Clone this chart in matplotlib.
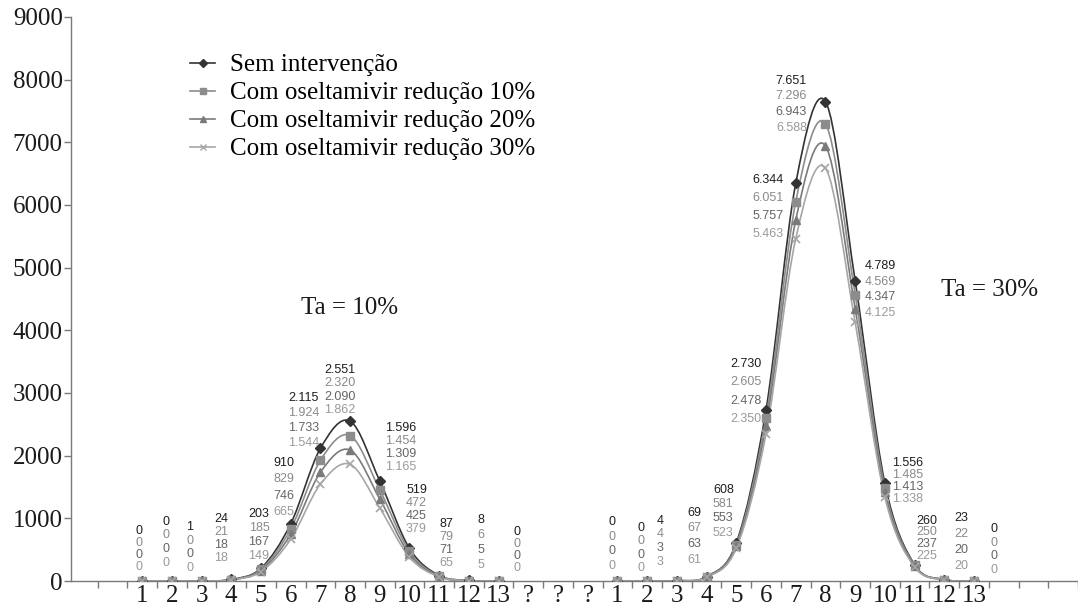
import numpy as np
import matplotlib
matplotlib.use('Agg')
import matplotlib.pyplot as plt
from matplotlib.path import Path
from matplotlib.patches import PathPatch
from matplotlib.lines import Line2D

# ---------------- data ----------------
week_labels = [str(i) for i in range(1, 14)] + ['?', '?', '?'] + [str(i) for i in range(1, 14)]

series_names = ['Sem intervenção',
                'Com oseltamivir redução 10%',
                'Com oseltamivir redução 20%',
                'Com oseltamivir redução 30%']

# Ta = 10%
ta10_sem = [0, 0, 1, 24, 203, 910, 2115, 2551, 1596, 519, 87, 8, 0]
ta10_r10 = [0, 0, 0, 21, 185, 829, 1924, 2320, 1454, 472, 79, 6, 0]
ta10_r20 = [0, 0, 0, 18, 167, 746, 1733, 2090, 1309, 425, 71, 5, 0]
ta10_r30 = [0, 0, 0, 18, 149, 665, 1544, 1862, 1165, 379, 65, 5, 0]

# Ta = 30%
ta30_sem = [0, 0, 4, 69, 608, 2730, 6344, 7651, 4789, 1556, 260, 23, 0]
ta30_r10 = [0, 0, 4, 67, 581, 2605, 6051, 7296, 4569, 1485, 250, 22, 0]
ta30_r20 = [0, 0, 3, 63, 553, 2478, 5757, 6943, 4347, 1413, 237, 20, 0]
ta30_r30 = [0, 0, 3, 61, 523, 2350, 5463, 6588, 4125, 1338, 225, 20, 0]

group_labels = ['Ta = 10%', 'Ta = 30%']

# ---------------- layout / style (not data) ----------------
W, H = 1078, 611
x_left_group = np.arange(0, 13)
x_right_group = np.arange(16, 29)

line_colors = ['#333333', '#8c8c8c', '#7a7a7a', '#a6a6a6']
label_colors = ['#1e1e1e', '#8a8a8a', '#656565', '#9a9a9a']
markers = ['D', 's', '^', 'x']
msizes = [5, 6, 6, 6]

# label placement per category: dx, dy of top label (pixels, image-down), vertical step
lab_dx_left = [-3, -6, -12, -10, -2, -7, -17, -10, 21, 7, 7, 12, 18]
lab_dy_left = [-50, -59, -54, -60, -54, -61, -50, -51, -53, -58, -52, -60, -49]
lab_st_left = [12, 13.5, 13.7, 13, 14, 16.3, 14.7, 13.3, 13, 13, 13.3, 14.7, 12]
lab_dx_right = [-5, -6, -17, -12, -13, -20, -28, -34, 25, 23, 12, 17, 20]
lab_dy_right = [-59, -53, -60, -64, -53, -46, -3, -21, -15, -20, -44, -62, -52]
lab_st_right = [14.7, 13.3, 13.7, 15.7, 14.3, 18.3, 17.7, 15.7, 15.7, 11.7, 11.7, 16.3, 13.7]


def fmt(v):
    return f"{v:,}".replace(',', '.')


def smooth_path(xs, ys):
    pts = np.column_stack([np.asarray(xs, float), np.asarray(ys, float)])
    n = len(pts)
    verts = [pts[0]]
    codes = [Path.MOVETO]
    for i in range(n - 1):
        p0 = pts[i - 1] if i > 0 else pts[i]
        p1 = pts[i]
        p2 = pts[i + 1]
        p3 = pts[i + 2] if i + 2 < n else pts[i + 1]
        c1 = p1 + (p2 - p0) / 6.0
        c2 = p2 - (p3 - p1) / 6.0
        verts += [c1, c2, p2]
        codes += [Path.CURVE4] * 3
    return Path(verts, codes)


fig = plt.figure(figsize=(W / 100, H / 100), dpi=100)
ax_l, ax_r, ax_b, ax_t = 71, 1078, 581, 17
ax = fig.add_axes([ax_l / W, 1 - ax_b / H, (ax_r - ax_l) / W, (ax_b - ax_t) / H])

px_per_cat = 29.88
x0_px = 142.5
ax.set_xlim((ax_l - x0_px) / px_per_cat, (ax_r - x0_px) / px_per_cat)
ax.set_ylim(0, 9000)

groups = [
    (x_left_group, [ta10_sem, ta10_r10, ta10_r20, ta10_r30], lab_dx_left, lab_dy_left, lab_st_left),
    (x_right_group, [ta30_sem, ta30_r10, ta30_r20, ta30_r30], lab_dx_right, lab_dy_right, lab_st_right),
]

for xs, series, ldx, ldy, lst in groups:
    for si, ys in enumerate(series):
        patch = PathPatch(smooth_path(xs, ys), facecolor='none', edgecolor=line_colors[si],
                          lw=1.2, transform=ax.transData, zorder=2 + si * 0.1)
        ax.add_patch(patch)
    for si, ys in enumerate(series):
        mk = markers[si]
        kw = dict(markerfacecolor=line_colors[si], markeredgecolor=line_colors[si])
        if mk == 'x':
            kw = dict(markeredgecolor=line_colors[si], markeredgewidth=1.2)
        ax.plot(xs, ys, linestyle='none', marker=mk, markersize=msizes[si], zorder=3 + si * 0.1, **kw)
    # data labels
    for ci, xk in enumerate(xs):
        top = series[0][ci]
        for si, ys in enumerate(series):
            off_y = -(ldy[ci] + si * lst[ci])
            ax.annotate(fmt(ys[ci]), xy=(xk, top), xytext=(ldx[ci], off_y),
                        textcoords='offset pixels', ha='center', va='center',
                        fontsize=9, family='Liberation Sans', color=label_colors[si],
                        annotation_clip=False, zorder=5)

# group annotations
fig.text(350 / W, 1 - 308 / H, group_labels[0], ha='center', va='center',
         fontsize=18, family='Liberation Serif', color='#1a1a1a')
fig.text(990 / W, 1 - 290 / H, group_labels[1], ha='center', va='center',
         fontsize=18, family='Liberation Serif', color='#1a1a1a')

# axes styling
for s in ['top', 'right']:
    ax.spines[s].set_visible(False)
for s in ['left', 'bottom']:
    ax.spines[s].set_color('#7a7a7a')
    ax.spines[s].set_linewidth(1.0)

ax.set_yticks(np.arange(0, 9001, 1000))
ax.set_yticklabels([str(v) for v in range(0, 9001, 1000)])
ax.tick_params(axis='y', length=5, width=1, color='#7a7a7a', pad=1, labelsize=18,
               labelcolor='#1a1a1a')

all_x = np.arange(0, 29)
ax.set_xticks(np.arange(-1.5, 32, 1.0))
ax.set_xticklabels([])
ax.set_xticks(all_x, minor=True)
ax.set_xticklabels(week_labels, minor=True)
ax.tick_params(axis='x', which='major', length=5, width=1, color='#7a7a7a')
ax.tick_params(axis='x', which='minor', length=0, pad=3, labelsize=18, labelcolor='#1a1a1a')
for lab in ax.get_yticklabels() + ax.get_xticklabels(minor=True):
    lab.set_family('Liberation Serif')

# legend
handles = []
for si in range(4):
    mk = markers[si]
    if mk == 'x':
        h = Line2D([], [], color=line_colors[si], lw=1.2, marker=mk, markersize=5,
                   markeredgewidth=1.0)
    else:
        h = Line2D([], [], color=line_colors[si], lw=1.2, marker=mk, markersize=4.5,
                   markerfacecolor=line_colors[si], markeredgecolor=line_colors[si])
    handles.append(h)
fig.legend(handles, series_names, loc='upper left', bbox_to_anchor=(190 / W, 1 - 54 / H),
           frameon=False, borderpad=0, borderaxespad=0, handlelength=1.0, handletextpad=0.6,
           labelspacing=0.22, prop={'family': 'Liberation Serif', 'size': 18})

fig.savefig('out.png', dpi=100)
